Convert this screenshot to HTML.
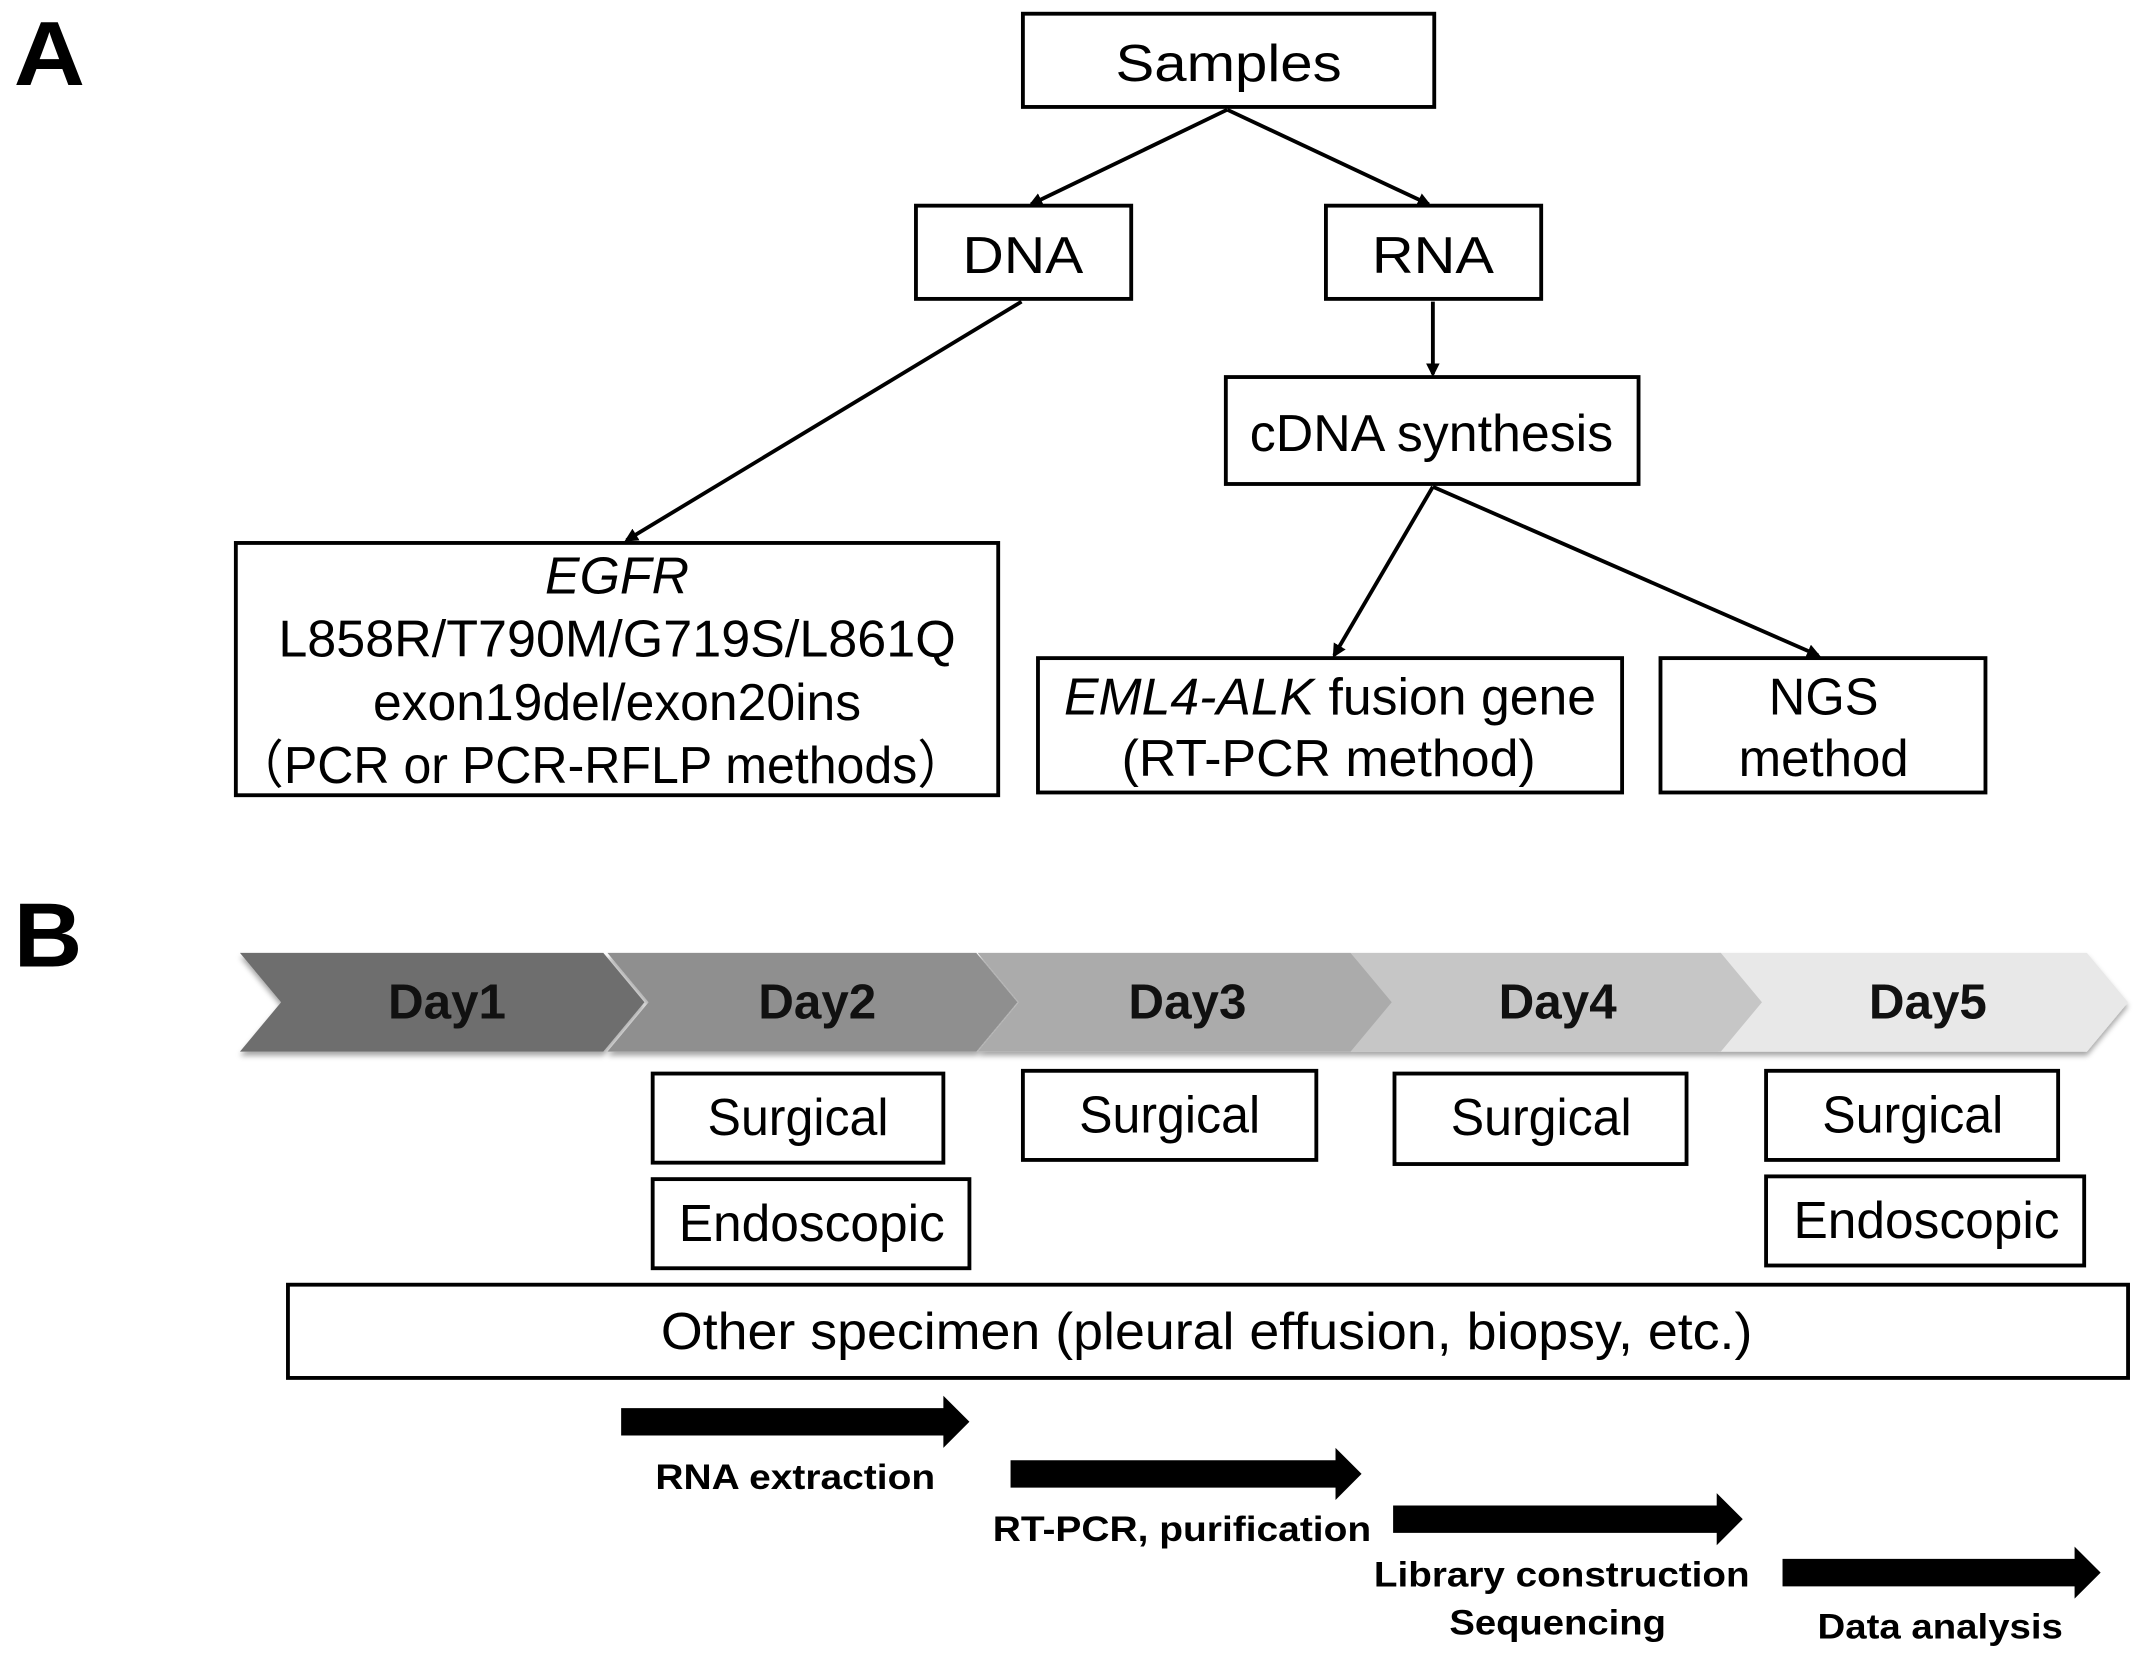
<!DOCTYPE html>
<html><head><meta charset="utf-8"><style>html,body{margin:0;padding:0;background:#fff}svg{display:block}</style></head>
<body>
<svg width="2150" height="1659" viewBox="0 0 1568 1210" preserveAspectRatio="none" xmlns="http://www.w3.org/2000/svg">
<defs>
<marker id="ah" markerWidth="10" markerHeight="10" refX="8" refY="5" orient="auto" markerUnits="userSpaceOnUse"><path d="M0,0 L10,5 L0,10 z" fill="#000"/></marker>
<filter id="sh" x="-5%" y="-10%" width="110%" height="130%"><feDropShadow dx="0" dy="3" stdDeviation="2" flood-color="#000" flood-opacity="0.35"/></filter>
</defs>
<g font-family="'Liberation Sans', sans-serif" fill="#000">
<text x="10" y="62" font-size="66" font-weight="bold" textLength="52" lengthAdjust="spacingAndGlyphs">A</text>
<text x="10" y="705" font-size="66" font-weight="bold" textLength="50" lengthAdjust="spacingAndGlyphs">B</text>
</g>
<g fill="#fff" stroke="#000" stroke-width="2.8">
<rect x="746" y="10" width="300" height="68"/>
<rect x="668" y="150" width="157" height="68"/>
<rect x="967" y="150" width="157" height="68"/>
<rect x="894" y="275" width="301" height="78"/>
<rect x="172" y="396" width="556" height="184"/>
<rect x="757" y="480" width="426" height="98"/>
<rect x="1211" y="480" width="237" height="98"/>
</g>
<g stroke="#000" stroke-width="2.8" marker-end="url(#ah)">
<line x1="895" y1="80" x2="752" y2="149"/>
<line x1="895" y1="80" x2="1042" y2="149"/>
<line x1="745" y1="220" x2="457" y2="394"/>
<line x1="1045" y1="220" x2="1045" y2="273"/>
<line x1="1045" y1="355" x2="973" y2="478"/>
<line x1="1045" y1="355" x2="1326" y2="478"/>
</g>
<g font-family="'Liberation Sans', sans-serif" font-size="38" text-anchor="middle" fill="#000">
<text x="896" y="59" textLength="165" lengthAdjust="spacingAndGlyphs">Samples</text>
<text x="746" y="199" textLength="88" lengthAdjust="spacingAndGlyphs">DNA</text>
<text x="1045" y="199" textLength="89" lengthAdjust="spacingAndGlyphs">RNA</text>
<text x="1044" y="329" textLength="265" lengthAdjust="spacingAndGlyphs">cDNA synthesis</text>
<text x="450" y="433" font-style="italic" textLength="105" lengthAdjust="spacingAndGlyphs">EGFR</text>
<text x="450" y="479" textLength="494" lengthAdjust="spacingAndGlyphs">L858R/T790M/G719S/L861Q</text>
<text x="450" y="525" textLength="356" lengthAdjust="spacingAndGlyphs">exon19del/exon20ins</text>
<text x="438" y="571" textLength="535" lengthAdjust="spacingAndGlyphs">（PCR or PCR-RFLP methods）</text>
<text x="970" y="521" textLength="388" lengthAdjust="spacingAndGlyphs"><tspan font-style="italic">EML4-ALK</tspan> fusion gene</text>
<text x="969" y="566" textLength="302" lengthAdjust="spacingAndGlyphs">(RT-PCR method)</text>
<text x="1330" y="521" textLength="80" lengthAdjust="spacingAndGlyphs">NGS</text>
<text x="1330" y="566" textLength="124" lengthAdjust="spacingAndGlyphs">method</text>
</g>
<g filter="url(#sh)">
<path d="M1253,695 L1522,695 L1552,731 L1522,767 L1253,767 L1283,731 z" fill="#e8e8e8"/>
<path d="M985,695 L1255,695 L1285,731 L1255,767 L985,767 L1015,731 z" fill="#c6c6c6"/>
<path d="M713,695 L985,695 L1015,731 L985,767 L713,767 L743,731 z" fill="#ababab"/>
<path d="M443,695 L712,695 L742,731 L712,767 L443,767 L473,731 z" fill="#8f8f8f"/>
<path d="M175,695 L440,695 L470,731 L440,767 L175,767 L205,731 z" fill="#6e6e6e"/>
</g>
<g font-family="'Liberation Sans', sans-serif" font-size="36" font-weight="bold" text-anchor="middle" fill="#111">
<text x="326" y="743">Day1</text>
<text x="596" y="743">Day2</text>
<text x="866" y="743">Day3</text>
<text x="1136" y="743">Day4</text>
<text x="1406" y="743">Day5</text>
</g>
<g fill="#fff" stroke="#000" stroke-width="2.8">
<rect x="476" y="783" width="212" height="65"/>
<rect x="746" y="781" width="214" height="65"/>
<rect x="1017" y="783" width="213" height="66"/>
<rect x="1288" y="781" width="213" height="65"/>
<rect x="476" y="860" width="231" height="65"/>
<rect x="1288" y="858" width="232" height="65"/>
<rect x="210" y="937" width="1342" height="68"/>
</g>
<g font-family="'Liberation Sans Narrow','Liberation Sans', sans-serif" font-size="38" text-anchor="middle" fill="#000">
<text x="582" y="828" textLength="132" lengthAdjust="spacingAndGlyphs">Surgical</text>
<text x="853" y="826" textLength="132" lengthAdjust="spacingAndGlyphs">Surgical</text>
<text x="1124" y="828" textLength="132" lengthAdjust="spacingAndGlyphs">Surgical</text>
<text x="1395" y="826" textLength="132" lengthAdjust="spacingAndGlyphs">Surgical</text>
<text x="592" y="905" textLength="194" lengthAdjust="spacingAndGlyphs">Endoscopic</text>
<text x="1405" y="903" textLength="194" lengthAdjust="spacingAndGlyphs">Endoscopic</text>
<text x="880" y="984" textLength="796" lengthAdjust="spacingAndGlyphs">Other specimen (pleural effusion, biopsy, etc.)</text>
</g>
<g fill="#000">
<path d="M453,1027 L688,1027 L688,1018 L707,1037 L688,1056 L688,1047 L453,1047 z"/>
<path d="M737,1065 L974,1065 L974,1056 L993,1075 L974,1094 L974,1085 L737,1085 z"/>
<path d="M1016,1098 L1252,1098 L1252,1089 L1271,1108 L1252,1127 L1252,1118 L1016,1118 z"/>
<path d="M1300,1137 L1513,1137 L1513,1128 L1532,1147 L1513,1166 L1513,1157 L1300,1157 z"/>
</g>
<g font-family="'Liberation Sans', sans-serif" font-size="26" font-weight="bold" text-anchor="middle" fill="#000">
<text x="580" y="1086" textLength="204" lengthAdjust="spacingAndGlyphs">RNA extraction</text>
<text x="862" y="1124" textLength="276" lengthAdjust="spacingAndGlyphs">RT-PCR, purification</text>
<text x="1139" y="1157" textLength="274" lengthAdjust="spacingAndGlyphs">Library construction</text>
<text x="1136" y="1192" textLength="158" lengthAdjust="spacingAndGlyphs">Sequencing</text>
<text x="1415" y="1195" textLength="179" lengthAdjust="spacingAndGlyphs">Data analysis</text>
</g>
</svg>
</body></html>
